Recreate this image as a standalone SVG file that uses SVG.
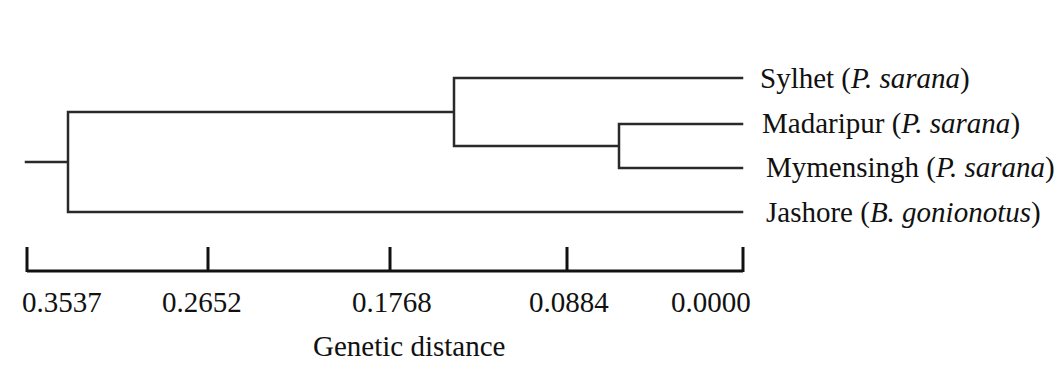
<svg xmlns="http://www.w3.org/2000/svg" width="1064" height="370" viewBox="0 0 1064 370">
<style>
.br{stroke:#2a2a2a;stroke-width:2.5;fill:none;stroke-linecap:square}
.ax{stroke:#111;stroke-width:3;fill:none}
text{font-family:"Liberation Serif","Times New Roman",serif;font-size:29px;fill:#111}
.it{font-style:italic}
</style>
<rect width="1064" height="370" fill="#fff"/>
<g id="connectors">
<path class="br" d="M26,162 H68 M68,112 V212 M68,112 H454 M68,212 H742 M454,78 V146 M454,78 H742 M454,146 H619 M619,124 V168 M619,124 H742 M619,168 H742"/>
</g>
<g id="axis">
<path class="ax" d="M27,271 H743 M27,247 V272 M208,247 V272 M390,247 V272 M567,247 V272 M743,247 V272"/>
<text x="22" y="312">0.3537</text>
<text x="162" y="312">0.2652</text>
<text x="352" y="312">0.1768</text>
<text x="529" y="312">0.0884</text>
<text x="671" y="312">0.0000</text>
<text x="313" y="356">Genetic distance</text>
</g>
<g id="node-sylhet"><text x="760" y="88">Sylhet (<tspan class="it">P. sarana</tspan>)</text></g>
<g id="node-madaripur"><text x="762" y="133">Madaripur (<tspan class="it">P. sarana</tspan>)</text></g>
<g id="node-mymensingh"><text x="766" y="177">Mymensingh (<tspan class="it">P. sarana</tspan>)</text></g>
<g id="node-jashore"><text x="766" y="222">Jashore (<tspan class="it">B. gonionotus</tspan>)</text></g>
</svg>
